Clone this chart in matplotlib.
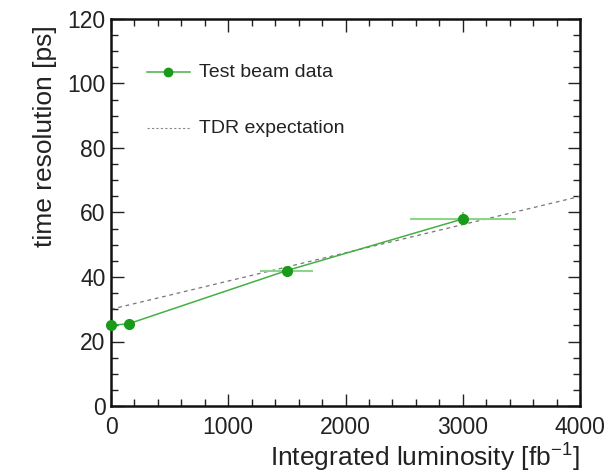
import matplotlib
matplotlib.use("Agg")
import matplotlib.pyplot as plt
import numpy as np
from matplotlib.ticker import MultipleLocator

plt.rcParams['font.family'] = ['Liberation Sans', 'DejaVu Sans']

# Data
lumi = [0, 150, 1500, 3000]
lumi_err = [0, 0, 225, 450]
resolution = [25, 25.5, 42, 58]
res_err = [0, 0, 0.8, 2.0]
tdr_lumi = [0, 4000]
tdr_res = [30, 65]

fig = plt.figure(figsize=(6.12, 4.73), dpi=100)
ax = fig.add_axes([111/612, 1 - 406/473, (580-111)/612, (406-19)/473])

green = '#1a9a1a'
ax.plot(tdr_lumi, tdr_res, linestyle=(0, (3, 3)), color='#777777', lw=0.9)
ax.errorbar(lumi, resolution, xerr=lumi_err, yerr=res_err, fmt='none',
            ecolor='#8cd68c', elinewidth=1.5, capsize=0)
ax.plot(lumi, resolution, color='#44b044', lw=1.1, marker='o', ms=7,
        mfc=green, mec=green, clip_on=False, zorder=5)

ax.set_xlim(0, 4000)
ax.set_ylim(0, 120)
ax.xaxis.set_major_locator(MultipleLocator(1000))
ax.xaxis.set_minor_locator(MultipleLocator(200))
ax.yaxis.set_major_locator(MultipleLocator(20))
ax.yaxis.set_minor_locator(MultipleLocator(5))
ax.tick_params(which='both', direction='in', top=True, right=True,
               labelsize=16.5, colors='#222222')
ax.tick_params(which='major', length=9, width=1)
ax.tick_params(which='minor', length=5, width=1)
ax.tick_params(axis='x', pad=7)
ax.tick_params(axis='y', pad=4)
for s in ax.spines.values():
    s.set_linewidth(1.8)
    s.set_color('#111111')

ax.set_xlabel(r'Integrated luminosity [fb$^{\mathregular{-1}}$]', fontsize=19,
              color='#222222', loc='right', labelpad=1)
ax.set_ylabel('time resolution [ps]', fontsize=19, color='#222222',
              loc='top', labelpad=7)
ax.yaxis.label.set_y(0.985)

# Legend (drawn manually in axes coordinates)
lx0, lx1 = 0.077, 0.168
ly1, ly2 = 0.862, 0.718
ax.plot([lx0, lx1], [ly1, ly1], transform=ax.transAxes, color='#44b044', lw=1.1,
        clip_on=False)
ax.plot([(lx0+lx1)/2], [ly1], transform=ax.transAxes, marker='o', ms=6,
        color=green, clip_on=False)
ax.text(0.188, ly1, 'Test beam data', transform=ax.transAxes, fontsize=14,
        va='center', ha='left', color='#222222')
ax.plot([lx0, lx1], [ly2, ly2], transform=ax.transAxes, color='#888888', lw=0.8,
        linestyle=(0, (2, 2)), clip_on=False)
ax.text(0.188, ly2, 'TDR expectation', transform=ax.transAxes, fontsize=14,
        va='center', ha='left', color='#222222')

fig.savefig('out.png', dpi=100)
